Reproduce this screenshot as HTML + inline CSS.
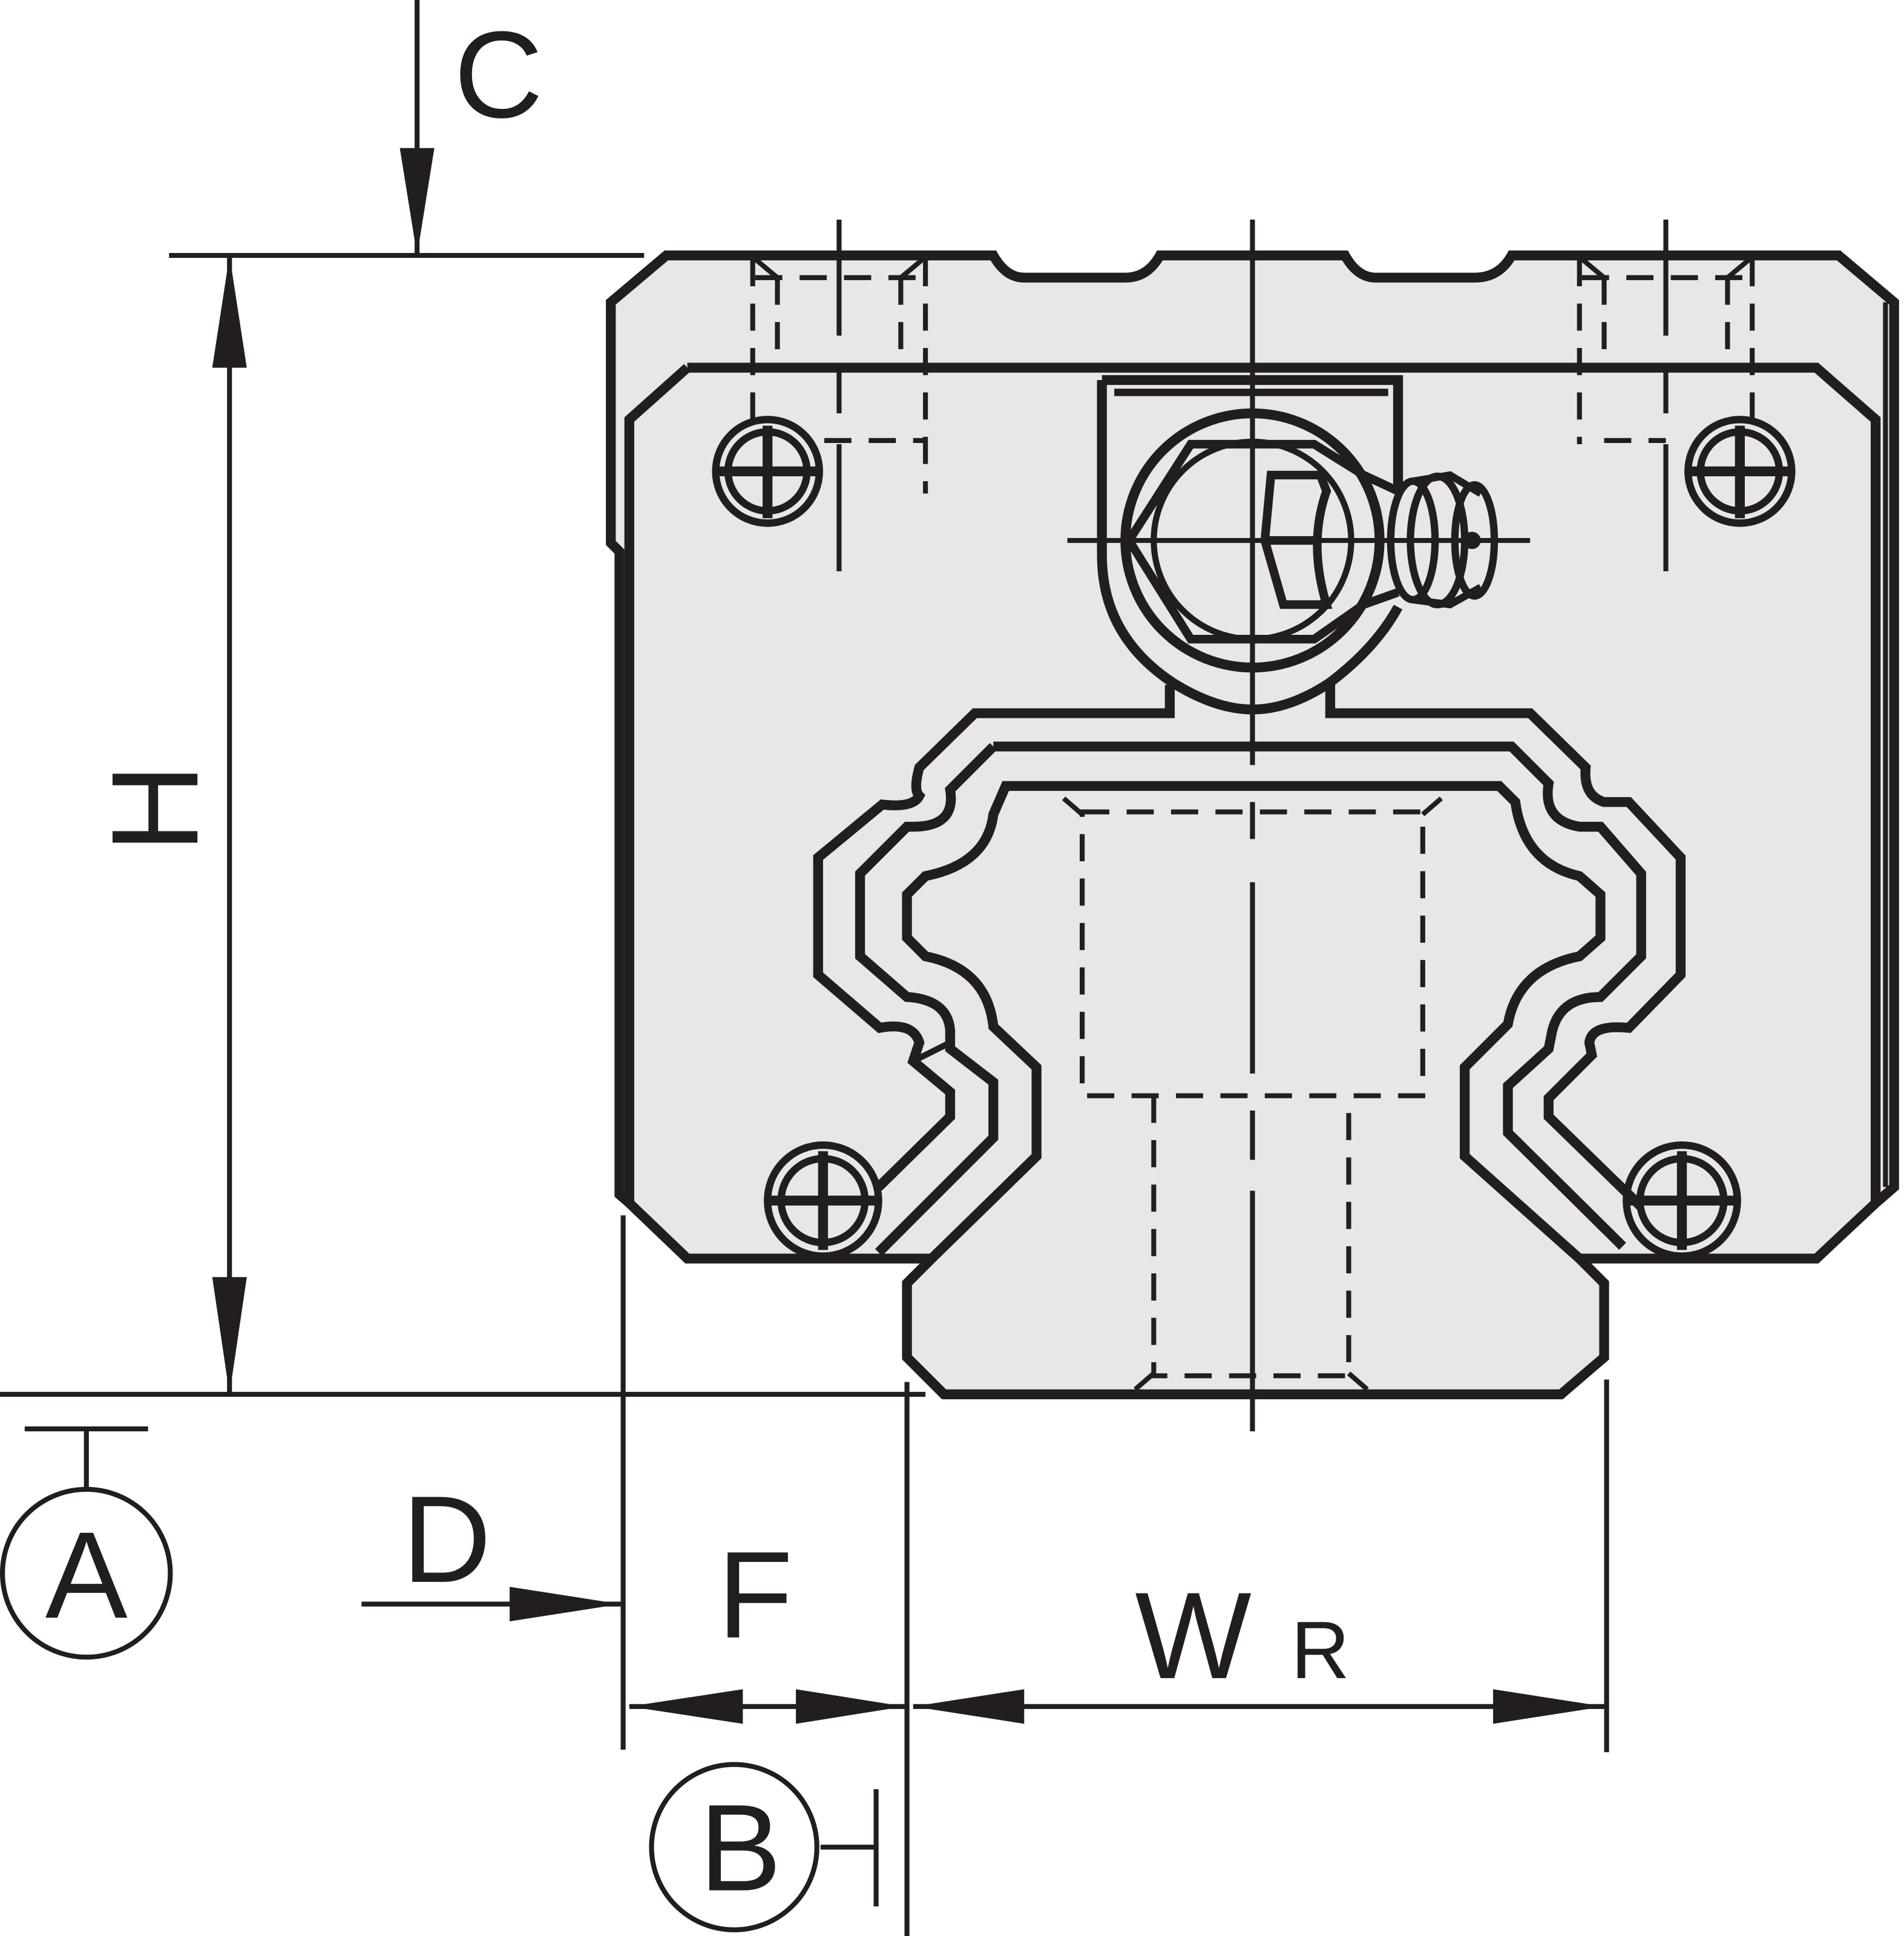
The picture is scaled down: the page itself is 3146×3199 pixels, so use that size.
<!DOCTYPE html>
<html><head><meta charset="utf-8"><style>html,body{margin:0;padding:0;background:#fff}svg{display:block}</style></head><body>
<svg width="3146" height="3199" viewBox="0 0 1543 1569" xmlns="http://www.w3.org/2000/svg">
<g fill="none" stroke="#221e1f" stroke-linejoin="miter" stroke-linecap="butt">
<!-- block body -->
<path d="M540,207 L805,207 Q815,225 830,225 L912,225 Q930,225 940,207 L1090,207 Q1100,225 1115,225 L1195,225 Q1215,225 1225,207 L1490,207 L1535,245 L1535,962 L1520,975 L1472,1020 L557,1020 L510,975 L502,968 L502,447 L495,440 L495,245 Z" fill="#e7e7ea" stroke-width="8"/>
<!-- rail -->
<path d="M815,637 L1215,637 L1228,650 Q1235,700 1280,710 L1297,725 L1297,760 L1280,775 Q1230,785 1222,830 L1187,865 L1187,937 L1280,1020 L1300,1040 L1300,1100 L1265,1130 L765,1130 L735,1100 L735,1040 L755,1020 L840,937 L840,865 L805,832 Q800,785 750,775 L735,760 L735,725 L750,710 Q800,700 805,660 Z" fill="#e7e7ea" stroke-width="8"/>
<path d="M557,298 L1472,298 L1520,340 L1520,975" stroke-width="8"/>
<path d="M557,298 L510,340 L510,975" stroke-width="8"/>
<path d="M1528,245 L1528,962" stroke-width="4"/>
<!-- seal contour -->
<path d="M805,605 L1225,605 L1255,635 Q1250,665 1280,670 L1297,670 L1330,708 L1330,775 L1297,808 Q1265,808 1258,835 L1255,850 L1222,880 L1222,918 L1315,1010" stroke-width="8"/>
<path d="M805,605 L770,640 Q775,670 740,670 L735,670 L697,708 L697,775 L735,808 Q768,810 770,835 L770,850 L805,877 L805,922 L712,1015" stroke-width="8"/>
<!-- outer cutout -->
<path d="M948,555 L948,578 L790,578 L745,622 Q740,640 745,645 Q740,655 715,652 L663,695 L663,790 L713,833 Q740,828 745,845 L740,860 L770,885 L770,905 L712,962" stroke-width="8"/>
<path d="M1078,555 L1078,578 L1240,578 L1285,622 Q1283,645 1300,650 L1320,650 L1362,695 L1362,790 L1320,833 Q1290,830 1288,845 L1290,855 L1255,890 L1255,905 L1330,978" stroke-width="8"/>
<path d="M740,860 L770,845" stroke-width="5"/>
<!-- grease nipple housing -->
<path d="M893,308 L893,450 Q893,515 950,553 Q985,575 1015,575 Q1045,575 1078,553 Q1115,525 1133,492" stroke-width="8"/>
<path d="M893,308 L1133,308 L1133,395" stroke-width="8"/>
<path d="M903,318 L1125,318" stroke-width="6"/>
<circle cx="1015" cy="438" r="103" stroke-width="8"/>
<circle cx="1015" cy="438" r="80" stroke-width="5"/>
<path d="M915,438 L965,360 L1065,360 L1105,385 L1133,398 M915,438 L965,518 L1065,518 L1105,490 L1133,480" stroke-width="7"/>
<path d="M1030,385 L1070,385 L1075,398 Q1060,440 1075,490 L1040,490 L1025,438 Z M1025,438 L1065,438" stroke-width="7"/>
<ellipse cx="1145" cy="438" rx="18" ry="48" stroke-width="6"/>
<ellipse cx="1165" cy="438" rx="22" ry="52" stroke-width="6"/>
<ellipse cx="1195" cy="438" rx="16" ry="45" stroke-width="6"/>
<path d="M1145,390 L1175,385 L1200,400 M1145,486 L1175,490 L1200,476" stroke-width="6"/>
<circle cx="1193" cy="438" r="6" fill="#221e1f" stroke-width="2"/>
<!-- bolts -->
<g stroke-width="6">
<circle cx="622" cy="382" r="42"/><circle cx="622" cy="382" r="32"/>
<circle cx="1410" cy="382" r="42"/><circle cx="1410" cy="382" r="32"/>
<circle cx="667" cy="973" r="45"/><circle cx="667" cy="973" r="34"/>
<circle cx="1363" cy="973" r="45"/><circle cx="1363" cy="973" r="34"/>
</g>
<g stroke-width="8">
<path d="M580,382 L664,382 M622,345 L622,420"/>
<path d="M1368,382 L1452,382 M1410,345 L1410,420"/>
<path d="M622,973 L712,973 M667,933 L667,1013"/>
<path d="M1318,973 L1408,973 M1363,933 L1363,1013"/>
</g>
<!-- hidden bolt holes -->
<g stroke-width="4" stroke-dasharray="22,14">
<path d="M610,210 L610,340 M750,210 L750,400 M630,225 L630,298 M730,225 L730,298"/>
<path d="M1280,210 L1280,360 M1420,210 L1420,340 M1300,225 L1300,298 M1400,225 L1400,298"/>
<path d="M612,225 L750,225 M1282,225 L1420,225 M668,357 L750,357 M1300,357 L1350,357"/>
<path d="M877,658 L1153,658 L1153,888 L877,888 Z"/>
<path d="M935,888 L935,1115 L1093,1115 L1093,888"/>
</g>
<path d="M612,210 L630,225 M748,210 L730,225 M1282,210 L1300,225 M1418,210 L1400,225 M862,647 L877,660 M1168,647 L1153,660 M920,1126 L935,1113 M1108,1126 L1093,1113" stroke-width="4"/>
<!-- centerlines -->
<g stroke-width="4">
<path d="M1015,178 L1015,620 M1015,650 L1015,680 M1015,715 L1015,870 M1015,900 L1015,940 M1015,965 L1015,1160"/>
<path d="M865,438 L1240,438"/>
<path d="M680,178 L680,272 M680,298 L680,335 M680,360 L680,463"/>
<path d="M1350,178 L1350,272 M1350,298 L1350,335 M1350,360 L1350,463"/>
</g>
<!-- dimensions -->
<g stroke-width="4">
<path d="M338,0 L338,207 M137,207 L522,207"/>
<path d="M186,207 L186,1130 M0,1130 L750,1130"/>
<path d="M20,1158 L120,1158 M70,1158 L70,1207"/>
<path d="M293,1300 L503,1300 M505,985 L505,1418 M735,1120 L735,1580 M1302,1118 L1302,1420"/>
<path d="M510,1383 L733,1383 M740,1383 L1300,1383"/>
<path d="M665,1497 L710,1497 M710,1450 L710,1545"/>
<circle cx="70" cy="1275" r="68"/>
<circle cx="595" cy="1497" r="67"/>
</g>
<g fill="#221e1f" stroke="none">
<path d="M338,207 L324,120 L352,120 Z"/>
<path d="M186,207 L172,298 L200,298 Z"/>
<path d="M186,1130 L172,1035 L200,1035 Z"/>
<path d="M503,1300 L413,1286 L413,1314 Z"/>
<path d="M510,1383 L602,1369 L602,1397 Z"/>
<path d="M733,1383 L645,1369 L645,1397 Z"/>
<path d="M740,1383 L830,1369 L830,1397 Z"/>
<path d="M1300,1383 L1210,1369 L1210,1397 Z"/>
</g>
</g>
<g font-family="Liberation Sans, sans-serif" fill="#221e1f" text-anchor="middle">
<text x="404" y="95" font-size="100">C</text>
<text transform="translate(160,655) rotate(-90)" font-size="100">H</text>
<text x="70" y="1311" font-size="100">A</text>
<text x="362" y="1282" font-size="100">D</text>
<text x="612" y="1327" font-size="100">F</text>
<text x="967" y="1360" font-size="100">W</text>
<text x="1070" y="1360" font-size="66">R</text>
<text x="600" y="1532" font-size="100">B</text>
</g>
</svg>
</body></html>
